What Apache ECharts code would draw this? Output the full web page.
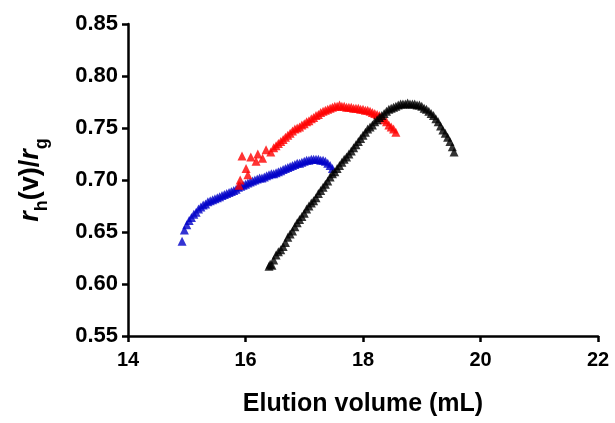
<!DOCTYPE html>
<html>
<head>
<meta charset="utf-8">
<script src="https://cdn.jsdelivr.net/npm/echarts@6/dist/echarts.min.js"></script>
<style>html,body{margin:0;padding:0;background:#fff;}#c{width:615px;height:423px;}</style>
</head>
<body>
<div id="c"></div>
<script>
// x ticks and y ticks
const xTicks = [14, 16, 18, 20, 22];
const yTicks = [0.55, 0.60, 0.65, 0.70, 0.75, 0.80, 0.85];

// Blue series: [elution volume, rh/rg]
const blueX = [14.92,14.96,15.00,15.04,15.08,15.12,15.16,15.20,15.24,15.28,15.32,15.36,15.40,15.44,15.48,15.52,15.56,15.60,15.64,15.68,15.72,15.76,15.80,15.84,15.88,15.92,15.96,16.00,16.04,16.08,16.12,16.16,16.20,16.24,16.28,16.32,16.36,16.40,16.44,16.48,16.52,16.56,16.60,16.64,16.68,16.72,16.76,16.80,16.84,16.88,16.92,16.96,17.00,17.04,17.08,17.12,17.16,17.20,17.24,17.28,17.32,17.36,17.40,17.44,17.48];
const blueY = [0.641,0.652,0.657,0.661,0.664,0.667,0.669,0.672,0.674,0.676,0.677,0.679,0.680,0.681,0.682,0.683,0.684,0.685,0.686,0.687,0.688,0.689,0.690,0.691,0.693,0.694,0.695,0.696,0.697,0.698,0.699,0.700,0.701,0.702,0.702,0.703,0.704,0.705,0.706,0.706,0.707,0.708,0.709,0.710,0.711,0.712,0.713,0.714,0.715,0.716,0.716,0.717,0.718,0.719,0.719,0.720,0.720,0.720,0.720,0.719,0.719,0.718,0.716,0.714,0.711];

// Red series
const redX = [15.89,15.91,15.94,16.01,16.04,16.09,16.18,16.21,16.29,16.35,16.43,16.48,16.52,16.56,16.60,16.64,16.68,16.72,16.76,16.80,16.84,16.88,16.92,16.96,17.00,17.04,17.08,17.12,17.16,17.20,17.24,17.28,17.32,17.36,17.40,17.44,17.48,17.52,17.56,17.60,17.64,17.68,17.72,17.76,17.80,17.84,17.88,17.92,17.96,18.00,18.04,18.08,18.12,18.16,18.20,18.24,18.28,18.32,18.36,18.40,18.44,18.48,18.52,18.56];
const redY = [0.695,0.700,0.723,0.711,0.705,0.722,0.718,0.725,0.721,0.729,0.727,0.731,0.733,0.735,0.737,0.739,0.741,0.743,0.745,0.747,0.749,0.750,0.751,0.753,0.754,0.756,0.757,0.759,0.760,0.762,0.763,0.765,0.766,0.767,0.768,0.769,0.770,0.771,0.771,0.772,0.771,0.771,0.770,0.770,0.770,0.769,0.769,0.769,0.768,0.768,0.767,0.767,0.766,0.765,0.764,0.763,0.762,0.760,0.758,0.756,0.753,0.751,0.749,0.746];

// Black series
const blackX = [16.40,16.42,16.45,16.48,16.52,16.56,16.60,16.64,16.68,16.72,16.76,16.80,16.84,16.88,16.92,16.96,17.00,17.04,17.08,17.12,17.16,17.20,17.24,17.28,17.32,17.36,17.40,17.44,17.48,17.52,17.56,17.60,17.64,17.68,17.72,17.76,17.80,17.84,17.88,17.92,17.96,18.00,18.04,18.08,18.12,18.16,18.20,18.24,18.28,18.32,18.36,18.40,18.44,18.48,18.52,18.56,18.60,18.64,18.68,18.72,18.76,18.80,18.84,18.88,18.92,18.96,19.00,19.04,19.08,19.12,19.16,19.20,19.24,19.28,19.32,19.36,19.40,19.44,19.48,19.52,19.55];
const blackY = [0.617,0.619,0.618,0.623,0.628,0.631,0.633,0.636,0.640,0.645,0.648,0.651,0.655,0.659,0.662,0.665,0.668,0.672,0.675,0.678,0.680,0.683,0.687,0.690,0.693,0.696,0.699,0.703,0.706,0.708,0.711,0.714,0.717,0.720,0.722,0.725,0.728,0.731,0.734,0.737,0.740,0.743,0.746,0.749,0.751,0.753,0.756,0.758,0.760,0.762,0.764,0.766,0.768,0.769,0.770,0.771,0.772,0.773,0.773,0.773,0.774,0.773,0.773,0.773,0.772,0.772,0.771,0.769,0.768,0.766,0.764,0.762,0.759,0.756,0.752,0.748,0.745,0.741,0.737,0.732,0.727];

const zip = (xs, ys) => xs.map((x, i) => [x, ys[i]]);
const FONT = 'Liberation Sans, Arial, sans-serif';

const axisLineStyle = { color: '#000', width: 2.5 };

const chart = echarts.init(document.getElementById('c'), null, { renderer: 'canvas' });
chart.setOption({
  animation: false,
  backgroundColor: '#fff',
  grid: { left: 128, right: 17, top: 24, bottom: 87, containLabel: false, outerBoundsMode: 'none' },
  xAxis: {
    type: 'value',
    min: xTicks[0], max: xTicks[xTicks.length - 1], interval: 2,
    name: 'Elution volume (mL)',
    nameLocation: 'middle',
    nameGap: 56,
    nameTextStyle: { fontFamily: FONT, fontWeight: 'bold', fontSize: 25, color: '#000' },
    axisLine: { show: true, onZero: false, lineStyle: axisLineStyle },
    axisTick: { show: true, length: 6, lineStyle: axisLineStyle },
    axisLabel: { fontFamily: FONT, fontWeight: 'bold', fontSize: 20, color: '#000', margin: 14 },
    splitLine: { show: false }
  },
  yAxis: {
    type: 'value',
    min: yTicks[0], max: yTicks[yTicks.length - 1], interval: 0.05,
    name: '{i|r}{s|h}{n|(v)/}{i|r}{s|g}',
    nameLocation: 'middle',
    nameRotate: 90,
    nameGap: 84,
    nameTextStyle: {
      fontFamily: FONT, color: '#000',
      rich: {
        i: { fontFamily: FONT, fontWeight: 'bold', fontStyle: 'italic', fontSize: 27, color: '#000', verticalAlign: 'bottom' },
        n: { fontFamily: FONT, fontWeight: 'bold', fontSize: 27, color: '#000', verticalAlign: 'bottom' },
        s: { fontFamily: FONT, fontWeight: 'bold', fontSize: 18, color: '#000', verticalAlign: 'bottom', padding: [0, 0, -7, 0] }
      }
    },
    axisLine: { show: true, onZero: false, lineStyle: axisLineStyle },
    axisTick: { show: true, length: 6, lineStyle: axisLineStyle },
    axisLabel: { fontFamily: FONT, fontWeight: 'bold', fontSize: 22, color: '#000', margin: 10,
      formatter: v => v.toFixed(2) },
    splitLine: { show: false }
  },
  series: [
    { type: 'scatter', name: 'blue', data: zip(blueX, blueY), symbol: 'triangle', symbolSize: 9,
      itemStyle: { color: '#0000C8' } },
    { type: 'scatter', name: 'red', data: zip(redX, redY), symbol: 'triangle', symbolSize: 9,
      itemStyle: { color: '#FF0000' } },
    { type: 'scatter', name: 'black', data: zip(blackX, blackY), symbol: 'triangle', symbolSize: 9,
      itemStyle: { color: '#000000' } }
  ]
});
</script>
</body>
</html>
